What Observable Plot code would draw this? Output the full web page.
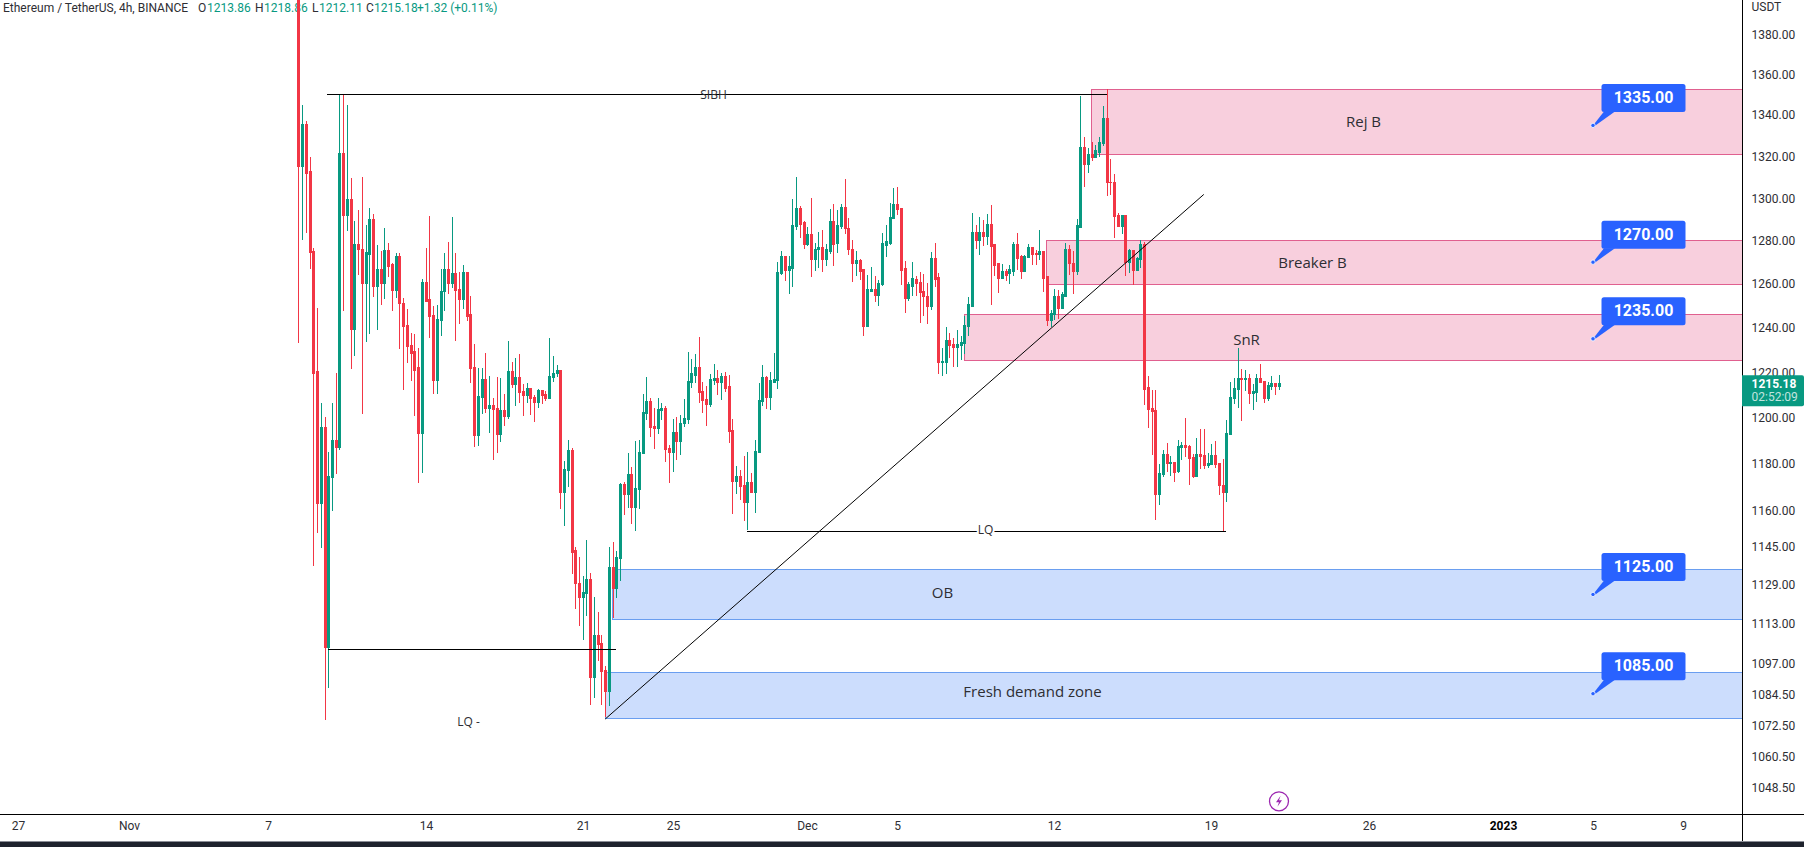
<!DOCTYPE html>
<html><head><meta charset="utf-8">
<style>html,body{margin:0;padding:0;background:#fff;overflow:hidden}svg{display:block}</style>
<script src="https://cdn.jsdelivr.net/npm/d3@7"></script>
<script src="https://cdn.jsdelivr.net/npm/@observablehq/plot@0.6"></script>
</head><body><div id="chart"></div>
<script>
// 4h ETH/USDT candles; the first candle opens above the visible pane
const firstCandle = "2022-11-08T08:00Z";
const opens = [
1490,1314.9,1335.2,1312.5,1274.8,1220.1,1163.1,1195.6,1103.5,1174.2,
1190,1186.9,1321.6,1292,1299.6,1239,1278.4,1276.1,1260,1273.8,
1289.7,1259,1266.4,1260.4,1275.2,1268.7,1257.2,1272.4,1251.2,1240.8,
1231.8,1229.1,1221.9,1193,1260.4,1252.6,1245.3,1216.2,1243.1,1256.3,
1266.4,1260,1264.6,1257.6,1253,1265,1245.8,1222.3,1192.1,1208.7,
1216.6,1203.8,1205.2,1203.8,1192.5,1203,1200.4,1220.1,1214.4,1217.5,
1211.3,1209.6,1212.6,1208.7,1206.5,1211.7,1210,1208.2,1217.9,1219.3,
1220.6,1167.7,1177.2,1185.8,1143,1129.4,1123.7,1125.4,1131.1,1091.5,
1108.3,1105.1,1094.3,1086,1136,1127.4,1139.7,1171.2,1166.9,1175.5,
1161.4,1169,1184.3,1201.7,1206.9,1196,1195.1,1203,1203.8,1186.4,
1184.7,1193.4,1189.5,1197.3,1199.1,1215.3,1218.8,1221.9,1211.3,1207.8,
1205.6,1216.2,1217,1215.3,1217.9,1213.5,1194.3,1172.4,1174.6,1170.7,
1163.5,1172,1167.7,1184.7,1206.9,1217.5,1208.7,1215.7,1216.2,1265,
1272.8,1266.4,1267.3,1286.9,1294.9,1288.3,1278.4,1283.1,1271.5,1275.7,
1276.6,1271.5,1275.2,1289.2,1278.9,1286.9,1295.8,1285.9,1276.1,1269.2,
1271,1266.4,1240.4,1256.7,1257.2,1254.9,1259.5,1278,1278.9,1290.6,
1297.2,1295.3,1266.9,1253.5,1259,1261.8,1260.4,1256.3,1254.4,1249.8,
1271.5,1262.7,1224.6,1224.6,1234.1,1232.2,1230.9,1231.8,1232.7,1240.4,
1249.8,1284,1279.9,1284,1282.1,1287.8,1278,1269.2,1262.7,1265.5,
1264.6,1265.9,1278.4,1272.4,1265.9,1272.4,1276.6,1273.8,1273.4,1274.8,
1263.2,1243.5,1246.2,1254.4,1248.9,1254.4,1275.7,1269.6,1265.9,1286.4,
1324.1,1316.3,1320.8,1319.7,1322.1,1326,1338.6,1307.7,1307.7,1292,
1286.9,1291.6,1270.1,1275.2,1266.4,1271.5,1278,1213,1203.8,1203,
1166.9,1175.5,1184,1180.2,1180.6,1176.7,1186.9,1187.7,1187.3,1182.8,
1174.6,1184,1183.6,1179.3,1179.8,1183.6,1180.2,1170.7,1167.7,1192.5,
1208.2,1212.2,1217,1216.6,1217,1210.4,1210.9,1217,1215.7,1208.2,
1213.9,1214.8,1213.86];
const closes = [
1314.9,1335.2,1312,1274.3,1219.7,1163.1,1195.6,1103.5,1174.6,1190,
1186.9,1321.6,1292,1299.6,1239,1278.4,1275.7,1260,1274.3,1289.7,
1259,1266.4,1260.4,1275.2,1268.2,1257.2,1272.4,1250.8,1240.4,1231.4,
1228.6,1221,1193,1260.4,1252.1,1244.9,1216.2,1243.5,1256.7,1266.4,
1260,1264.6,1257.2,1253,1265,1245.3,1221.9,1192.1,1209.1,1216.6,
1203.8,1205.2,1203.4,1192.5,1203,1200.4,1220.1,1214.4,1217.5,1210.9,
1209.6,1212.6,1208.2,1206.5,1211.7,1209.6,1208.2,1217.9,1219.3,1220.6,
1167.7,1177.6,1185.8,1142.6,1129.4,1123.7,1125.8,1131.1,1091.5,1108.3,
1104.7,1093.9,1086,1136,1127.4,1140.1,1171.2,1166.9,1175.5,1161.4,
1169.4,1184.7,1202.1,1206.9,1195.6,1195.1,1203.4,1203.8,1186,1184.7,
1193.4,1189.5,1197.3,1199.5,1215.7,1219.3,1221.9,1210.9,1207.4,1205.6,
1216.6,1217,1215.3,1217.9,1213,1193.9,1172.4,1174.6,1170.3,1163.5,
1172,1167.7,1185.2,1207.4,1217.5,1208.7,1216.2,1216.6,1265,1272.8,
1266.4,1267.8,1287.3,1294.9,1287.8,1278.4,1283.1,1271.5,1276.1,1276.6,
1271.5,1275.7,1289.2,1278.4,1287.3,1295.8,1285.5,1275.7,1269.2,1271,
1265.9,1240.4,1257.2,1257.2,1254.9,1260,1278.9,1279.4,1291.1,1297.2,
1294.9,1266.4,1253.5,1259.5,1262.3,1260,1255.9,1254,1249.8,1271.5,
1261.8,1224.6,1225,1234.1,1231.8,1230.9,1232.2,1233.1,1240.8,1250.3,
1284,1279.9,1284,1282.1,1287.8,1277.5,1268.7,1262.7,1265.5,1264.1,
1266.4,1278.4,1271.9,1265.9,1272.8,1276.6,1273.4,1273.4,1274.8,1262.7,
1243.5,1246.6,1254.4,1248.9,1254.9,1275.7,1269.2,1265.9,1287.3,1324.1,
1316.3,1320.8,1319.7,1322.6,1326.5,1338.6,1307.3,1307.3,1291.6,1286.9,
1291.6,1270.1,1275.2,1266.4,1271.9,1278,1212.6,1203.4,1202.5,1166.9,
1175.9,1184,1180.2,1180.6,1176.3,1187.3,1187.7,1186.9,1182.3,1174.6,
1184,1183.2,1179.3,1180.2,1183.6,1179.8,1170.7,1167.7,1193,1208.7,
1212.6,1217,1216.6,1217,1210.4,1211.3,1217,1215.3,1208.2,1213.9,
1214.8,1213.5,1215.18];
const highs = [
1530,1345,1337.1,1319.7,1276.6,1248.9,1206.5,1200.4,1185.2,1206.5,
1219.7,1350.3,1350.3,1345,1309.6,1289.2,1294.4,1310.1,1287.3,1295.3,
1292.5,1278,1275.2,1285.9,1278.9,1269.6,1274.3,1274.3,1253.5,1248.5,
1237.6,1237.2,1230.9,1262.3,1276.6,1291.6,1249.8,1250.3,1266.9,1274.3,
1279.4,1291.1,1274.3,1265.5,1268.7,1265.5,1254.4,1232.7,1221.9,1221.9,
1228.6,1218.4,1208.7,1217.9,1217.5,1210.4,1234.1,1224.6,1226.4,1228.2,
1214.8,1215.3,1212.8,1210,1212.6,1212.2,1211.7,1235.4,1227.3,1223.2,
1221,1181,1190.4,1186.9,1144.6,1140.5,1132.7,1147.6,1134,1124.1,
1118,1108.3,1095.9,1144.6,1146.7,1143,1171.6,1172,1184.8,1178.4,
1190,1190.4,1210.4,1217.9,1208.7,1204.3,1208.7,1206.5,1205.2,1188.2,
1199.5,1200.4,1201.2,1208.2,1229.1,1226,1228.2,1235.9,1215.7,1213.9,
1219.3,1223.7,1221,1219.7,1220.1,1219,1199.5,1179,1177.2,1183.2,
1185.2,1175.9,1190.4,1215.3,1223.2,1218.4,1220.1,1228.6,1270.1,1275.2,
1272.8,1272.8,1299.6,1310.1,1296.3,1289.2,1286.4,1300,1278.9,1284,
1285,1278.4,1294.9,1297.2,1294.4,1297.2,1309.1,1290.6,1280.3,1275.2,
1271.5,1266.9,1264.1,1267.8,1263.6,1261.8,1283.6,1287.3,1297.7,1304.9,
1305.3,1295.3,1270.6,1260.9,1270.1,1263.6,1265.5,1264.6,1260.4,1274.8,
1278.9,1265,1230.9,1240.4,1237.6,1235.4,1239,1236.3,1245.3,1254,
1293,1287.3,1291.1,1289.7,1292.5,1296.7,1278,1269.6,1269.2,1266.9,
1268.7,1279.4,1283.6,1273.4,1273.4,1278.4,1277,1275.7,1285,1274.8,
1263.2,1248,1257.6,1257.2,1256.3,1278.9,1278,1275.2,1290.2,1349.3,
1329.3,1324.1,1326.9,1325.6,1329.3,1344.5,1353,1318.7,1311.5,1293,
1291.6,1291.6,1276.1,1275.7,1272.4,1280.3,1279.4,1218.4,1212.2,1212.2,
1179.8,1185.8,1189.1,1183.2,1180.6,1190.4,1189.5,1200,1188.2,1184,
1191.3,1195.1,1195.1,1184.8,1188.7,1190,1180.2,1181.9,1199.1,1215.7,
1217.5,1230.9,1221.4,1221,1219.3,1214.8,1219.3,1223.7,1216.2,1215.7,
1218.4,1215.3,1218.86];
const lows = [
1233.2,1280.3,1283.6,1266.9,1136.8,1150.5,1144.2,1074.6,1087.2,1159.8,
1175.5,1186,1247.5,1284.5,1221.4,1227.3,1264.1,1201.7,1233.6,1237.2,
1254,1239,1250.3,1253,1263.2,1247.5,1253.5,1230.4,1212.2,1224.1,
1216.2,1200.8,1171.6,1175.9,1251.7,1235.4,1210.4,1210.4,1236.3,1247.5,
1255.4,1258.1,1234.1,1241.7,1248.5,1243.1,1215.3,1187.3,1187.8,1201.7,
1202.1,1193.4,1181.5,1184.4,1189.5,1196.4,1199.5,1213,1205.2,1206.5,
1200.8,1206.5,1201.2,1198.2,1204.3,1206,1207.4,1208,1215.7,1217.9,
1160.6,1153.5,1169.9,1133.5,1119.2,1112.3,1106.3,1116,1080.5,1083.2,
1097.9,1080.5,1075.8,1080.1,1115.2,1123.7,1130.7,1158.1,1161,1154.3,
1151.4,1160.6,1184.3,1199.1,1191.7,1186.4,1193,1199.1,1180.6,1171.6,
1176.3,1181.5,1183.6,1196,1197.3,1213,1215.3,1206.5,1202.1,1196.4,
1204.7,1214.4,1210,1207.8,1211.3,1189.1,1158.5,1166.9,1164.4,1155.6,
1151.8,1167.3,1158.9,1184.7,1205.2,1203.8,1203.4,1215.7,1212.6,1264.1,
1261.3,1255.4,1258.6,1285,1281.2,1276.1,1277.5,1263.2,1265.9,1267.3,
1265.5,1268.2,1273.8,1268.2,1274.3,1285.5,1283.1,1273.4,1260.9,1263.6,
1261.8,1236.3,1240.4,1256.7,1251.7,1249.8,1259,1272.4,1278,1290.2,
1292,1259.5,1246.6,1252.1,1254.4,1254.4,1242.2,1245.3,1241.7,1248,
1258.6,1219.3,1218.4,1219.3,1226.4,1222.3,1222.3,1225.5,1228.2,1236.3,
1249.4,1276.1,1273.4,1277.5,1278,1250.3,1263.6,1255.9,1262.3,1261.3,
1260,1263.6,1266.4,1262.3,1265.5,1272.4,1268.7,1268.7,1271,1256.3,
1240.8,1240.4,1243.5,1244,1248.9,1254,1264.1,1255.4,1264.1,1286.4,
1305.3,1312,1317.8,1319.7,1319.7,1325,1301,1301.5,1281.2,1286.9,
1283.1,1263.6,1265,1259.5,1265.9,1267.3,1205.6,1195.6,1183.9,1156,
1162.3,1174.2,1176.3,1174.6,1172,1175.9,1181.5,1182.8,1170.7,1173.7,
1174.2,1177.6,1177.6,1178,1179.8,1178,1166.5,1151.4,1163.5,1192.5,
1206,1204.3,1198.7,1211.7,1206,1203.4,1206.9,1215.3,1206.5,1207.4,
1212.2,1210,1212.11];

// Axes
const priceTicks = [1380,1360,1340,1320,1300,1280,1260,1240,1220,1200,1180,1160,1145,1129,1113,1097,1084.5,1072.5,1060.5,1048.5];
const dateTicks = ["2022-10-26T20:00Z","2022-10-31T19:00Z","2022-11-07","2022-11-14","2022-11-21","2022-11-25","2022-12-01","2022-12-05","2022-12-12","2022-12-19","2022-12-26","2023-01-05","2023-01-09"];
const dateLabels = ["27","Nov","7","14","21","25","Dec","5","12","19","26","5","9"];
const yearTick = "2023-01-01", yearLabel = "2023";

// Drawn zones
const zoneNames  = ["Rej B","Breaker B","SnR","OB","Fresh demand zone"];
const zoneStarts = ["2022-12-13T15:30Z","2022-12-11T15:30Z","2022-12-08T00:00Z","2022-11-22T07:40Z","2022-11-22T00:00Z"];
const zoneTops   = [1352.7,1280.2,1245.8,1135.4,1093.5];
const zoneBottoms= [1321.0,1259.8,1225.3,1114.8,1075.3];
const zoneKinds  = ["supply","supply","supply","demand","demand"];
const zoneLabelTimes = ["2022-12-25T18:00Z","2022-12-23T11:00Z","2022-12-20T13:00Z","2022-12-07T00:00Z","2022-12-11T00:00Z"];
const zoneLabelPrices = [1337.0,1269.8,1234.8,1125.8,1085.6];

// Level lines
const levelNames  = ["SIBH","LQ","LQ -"];
const levelStarts = ["2022-11-09T15:00Z","2022-11-28T07:10Z","2022-11-09T15:30Z"];
const levelEnds   = ["2022-12-14T08:00Z","2022-12-19T15:20Z","2022-11-22T11:10Z"];
const levelPrices = [1350.2,1151.2,1102.7];
const levelLabelTimes = ["2022-11-26T19:00Z","2022-12-08T22:00Z","2022-11-15T21:30Z"];
const levelLabelPrices = [1350.3,1151.8,1074];

// Trend line
const trendTimes  = ["2022-11-22T00:00Z","2022-12-18T15:20Z"];
const trendPrices = [1075.3,1301.9];

// Price callouts
const calloutPrices = [1335,1270,1235,1125,1085];
const calloutTime = "2023-01-05T00:00Z";

// Header and last price
const symbolTitle = "Ethereum / TetherUS, 4h, BINANCE";
const quoteLetters = ["O","H","L","C"];
const quoteValues = ["1213.86","1218.86","1212.11","1215.18"];
const changeText = "+1.32 (+0.11%)";
const currency = "USDT";
const lastPrice = 1215.18, countdown = "02:52:09";
const eventTime = "2022-12-22T00:00Z", eventPrice = 1043.2;

const UP = "#089981", DOWN = "#f23645", FONT = "Roboto, 'Liberation Sans', sans-serif", LABEL_FONT = "'Open Sans', Roboto, sans-serif";
const TEXT = "#2e2e33";
const n = opens.length;
const t0 = new Date(firstCandle).getTime();
const times = d3.range(n).map(i => new Date(t0 + i * 4 * 3600e3));
const upIdx = d3.range(n).filter(i => closes[i] >= opens[i]);
const downIdx = d3.range(n).filter(i => closes[i] < opens[i]);
const D = s => new Date(s);
const zoneEnd = D("2023-01-20");

const candleMark = (idx, color) => [
  Plot.ruleX(idx, {x: i => times[i], y1: i => lows[i], y2: i => highs[i], stroke: color, strokeWidth: 1, clip: true, shapeRendering: "crispEdges"}),
  Plot.ruleX(idx, {x: i => times[i], y1: i => Math.min(opens[i], closes[i]) - 0.25, y2: i => Math.max(opens[i], closes[i]) + 0.25, stroke: color, strokeWidth: 3, clip: true, shapeRendering: "crispEdges"})
];
const zones = d3.range(zoneNames.length);
const zoneRect = (kind, fill, stroke) => Plot.rect(zones.filter(i => zoneKinds[i] === kind), {
  x1: i => D(zoneStarts[i]), x2: () => zoneEnd, y1: i => zoneBottoms[i], y2: i => zoneTops[i],
  fill, stroke, strokeWidth: 1, clip: true, shapeRendering: "crispEdges"
});
const levels = d3.range(levelNames.length);

function header(index, scales, values, dim) {
  const g = d3.create("svg:g").attr("font-family", FONT).attr("font-size", 12).attr("text-anchor", "start");
  const t = (x, s, c) => g.append("text").attr("x", x).attr("y", 8).attr("dy", "0.33em").attr("fill", c).text(s);
  t(3, symbolTitle, TEXT);
  const letterX = [198, 255, 312, 366], valueX = [207, 264, 319, 374];
  letterX.forEach((x, i) => { t(x, quoteLetters[i], TEXT); t(valueX[i], quoteValues[i], UP); });
  t(417, changeText, UP);
  return g.node();
}

function frame(index, scales, values, dim) {
  const {width, height, marginRight, marginBottom} = dim;
  const ax = width - marginRight + 0.5, ay = height - marginBottom + 0.5;
  const g = d3.create("svg:g").attr("font-family", FONT).attr("text-anchor", "start");
  g.append("rect").attr("x", 0).attr("y", 841).attr("width", width).attr("height", 6).attr("fill", "#1e222d");
  g.append("rect").attr("x", 0).attr("y", 841).attr("width", width).attr("height", 1).attr("fill", "#8a8d96");
  g.append("line").attr("x1", 0).attr("x2", width).attr("y1", ay).attr("y2", ay).attr("stroke", "#000");
  g.append("line").attr("x1", ax).attr("x2", ax).attr("y1", 0).attr("y2", 841).attr("stroke", "#000");
  g.append("text").attr("x", ax + 9).attr("y", 7).attr("dy", "0.33em").attr("font-size", 12).attr("fill", TEXT).text(currency);
  // last price tag
  const py = scales.y(lastPrice);
  g.append("path").attr("d", `M${ax - 0.5},${py - 8}H${width - 2}a2,2 0 0 1 2,2V${py + 21}a2,2 0 0 1 -2,2H${ax - 0.5}Z`).attr("fill", UP);
  g.append("text").attr("x", ax + 9).attr("y", py + 0.5).attr("dy", "0.33em").attr("font-size", 12).attr("font-weight", 700).attr("fill", "#fff").text(lastPrice.toFixed(2));
  g.append("text").attr("x", ax + 9).attr("y", py + 14).attr("dy", "0.33em").attr("font-size", 12).attr("fill", "#fff").attr("fill-opacity", 0.75).text(countdown);
  // event badge
  const ex = scales.x(D(eventTime)), ey = scales.y(eventPrice);
  const b = g.append("g").attr("transform", `translate(${ex},${ey})`);
  b.append("circle").attr("r", 9.5).attr("fill", "#fff").attr("stroke", "#9c27b0").attr("stroke-width", 1.3);
  b.append("path").attr("d", "M1.6,-5.5L-3,1H0L-1.6,5.5L3,-1H0Z").attr("fill", "#9c27b0");
  return g.node();
}

function callouts(index, scales, values, dim) {
  const g = d3.create("svg:g").attr("font-family", FONT);
  const x = scales.x(D(calloutTime));
  for (const p of calloutPrices) {
    const y = scales.y(p);
    const c = g.append("g").attr("transform", `translate(${x},${y})`);
    c.append("path").attr("d", "M0,0L11,-14H22L1,1Z").attr("fill", "#2962ff");
    c.append("rect").attr("x", 8.5).attr("y", -41.5).attr("width", 84).attr("height", 28).attr("rx", 2.5).attr("fill", "#2962ff");
    c.append("circle").attr("r", 2.2).attr("fill", "#2962ff").attr("stroke", "#fff").attr("stroke-width", 0.8);
    c.append("text").attr("x", 50.5).attr("y", -28).attr("dy", "0.35em").attr("text-anchor", "middle").attr("font-size", 16).attr("font-weight", 700).attr("fill", "#fff").text(p.toFixed(2));
  }
  return g.node();
}

const chart = Plot.plot({
  width: 1804, height: 847,
  marginLeft: 0, marginRight: 62, marginTop: 0, marginBottom: 33,
  style: {fontFamily: FONT, fontSize: "12px", background: "#fff", overflow: "hidden"},
  x: {type: "utc", domain: [D("2022-10-26T01:08Z"), D("2023-01-11T15:07Z")], round: true},
  y: {type: "log", domain: [1038.4, 1397.5]},
  marks: [
    zoneRect("supply", "#f8cfdd", "#e0608f"),
    zoneRect("demand", "#ccddfd", "#6a9ef0"),
    header,
    ...candleMark(upIdx, UP),
    ...candleMark(downIdx, DOWN),
    Plot.ruleY(levels, {y: i => levelPrices[i], x1: i => D(levelStarts[i]), x2: i => D(levelEnds[i]), stroke: "#000", strokeWidth: 1, shapeRendering: "crispEdges"}),
    Plot.line(trendTimes.map((t, i) => i), {x: i => D(trendTimes[i]), y: i => trendPrices[i], stroke: "#000", strokeWidth: 1, curve: "linear"}),
    Plot.text(zones, {x: i => D(zoneLabelTimes[i]), y: i => zoneLabelPrices[i], text: i => zoneNames[i], fill: TEXT, fontSize: 15, fontFamily: LABEL_FONT}),
    Plot.text(levels, {x: i => D(levelLabelTimes[i]), y: i => levelLabelPrices[i], text: i => levelNames[i], fill: TEXT, fontSize: 12, fontFamily: LABEL_FONT,
      stroke: i => i === 1 ? "#fff" : "none", strokeWidth: 4}),
    Plot.axisY({anchor: "right", ticks: priceTicks, tickSize: 0, tickPadding: 9, label: null, tickFormat: d3.format(".2f"), fill: TEXT, fontSize: 12}),
    Plot.axisX({anchor: "bottom", ticks: dateTicks.map(D), tickSize: 0, tickPadding: 7, label: null, fill: TEXT, fontSize: 12,
      tickFormat: d => dateLabels[dateTicks.findIndex(s => +D(s) === +d)]}),
    Plot.axisX({anchor: "bottom", ticks: [D(yearTick)], tickSize: 0, tickPadding: 7, label: null, fill: "#000", fontSize: 12, fontWeight: 700, tickFormat: () => yearLabel}),
    frame,
    callouts
  ]
});
document.getElementById("chart").append(chart);
</script></body></html>
